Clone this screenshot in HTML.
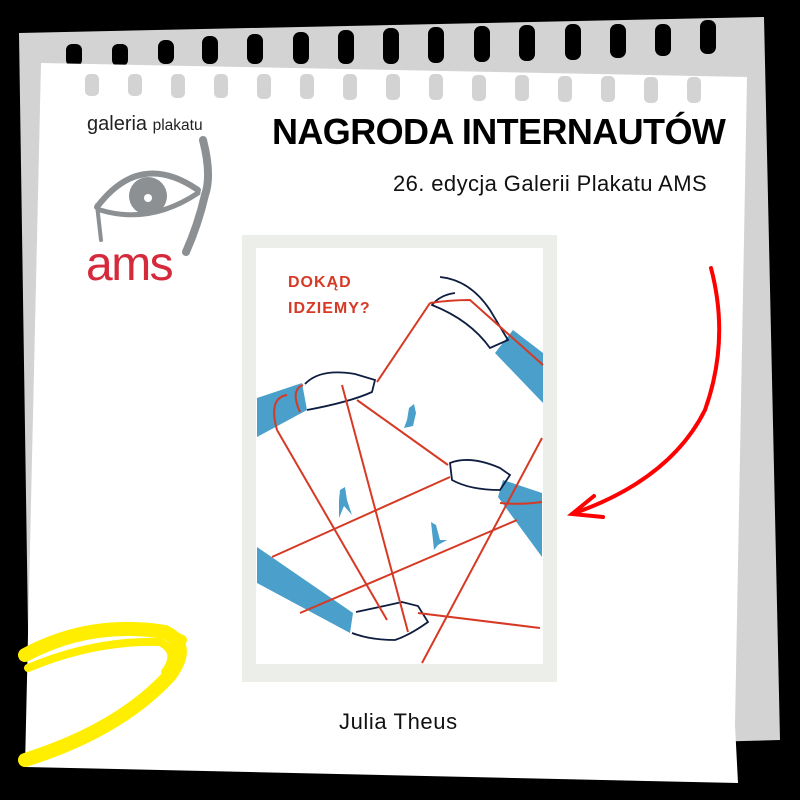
<!DOCTYPE html>
<html><head><meta charset="utf-8"><style>
html,body{margin:0;padding:0;background:#000;}
body{width:800px;height:800px;overflow:hidden;position:relative;font-family:"Liberation Sans",sans-serif;}
svg{position:absolute;left:0;top:0;}
.t{position:absolute;white-space:nowrap;color:#111;}
</style></head><body>
<svg width="800" height="800" viewBox="0 0 800 800">
  <polygon points="19,33 764,17 780,740 30,760" fill="#d3d3d3"/>
  <g fill="#000">
    <rect x="66" y="44" width="16" height="22" rx="6"/>
    <rect x="112" y="44" width="16" height="22" rx="6"/>
    <rect x="158" y="40" width="16" height="24" rx="7"/>
    <rect x="202" y="36" width="16" height="28" rx="7"/>
    <rect x="247" y="34" width="16" height="30" rx="7"/>
    <rect x="293" y="32" width="16" height="32" rx="7"/>
    <rect x="338" y="30" width="16" height="34" rx="7"/>
    <rect x="383" y="28" width="16" height="36" rx="7"/>
    <rect x="428" y="27" width="16" height="36" rx="7"/>
    <rect x="474" y="26" width="16" height="36" rx="7"/>
    <rect x="519" y="25" width="16" height="36" rx="7"/>
    <rect x="565" y="24" width="16" height="36" rx="7"/>
    <rect x="610" y="24" width="16" height="34" rx="7"/>
    <rect x="655" y="24" width="16" height="32" rx="7"/>
    <rect x="700" y="20" width="16" height="34" rx="7"/>
  </g>
  <polygon points="41,63 747,77 735,725 738,783 25,767" fill="#fff"/>
  <g fill="#d3d3d3">
    <rect x="85" y="74" width="14" height="22" rx="5"/>
    <rect x="128" y="74" width="14" height="22" rx="5"/>
    <rect x="171" y="74" width="14" height="24" rx="5"/>
    <rect x="214" y="74" width="14" height="24" rx="5"/>
    <rect x="257" y="74" width="14" height="25" rx="5"/>
    <rect x="300" y="74" width="14" height="25" rx="5"/>
    <rect x="343" y="74" width="14" height="26" rx="5"/>
    <rect x="386" y="74" width="14" height="26" rx="5"/>
    <rect x="429" y="74" width="14" height="26" rx="5"/>
    <rect x="472" y="75" width="14" height="26" rx="5"/>
    <rect x="515" y="75" width="14" height="26" rx="5"/>
    <rect x="558" y="76" width="14" height="26" rx="5"/>
    <rect x="601" y="76" width="14" height="26" rx="5"/>
    <rect x="644" y="77" width="14" height="26" rx="5"/>
    <rect x="687" y="77" width="14" height="26" rx="5"/>
  </g>
  <g fill="none" stroke="#8d9092" stroke-linecap="round">
    <path d="M97,207 Q140,150 198,190" stroke-width="6"/>
    <path d="M100,210 Q150,225 198,193" stroke-width="5"/>
    <path d="M97,205 L101,240" stroke-width="4"/>
    <path d="M203,140 Q212,175 205,195 Q198,225 186,252" stroke-width="8"/>
  </g>
  <circle cx="148" cy="196" r="19" fill="#8d9092"/>
  <circle cx="148" cy="198" r="4" fill="#fff"/>
  <rect x="242" y="235" width="315" height="447" fill="#eceeea"/>
  <rect x="256" y="248" width="287" height="416" fill="#fff"/>
  <g fill="#4b9fcb">
    <polygon points="257,398 302,383 307,410 257,437"/>
    <polygon points="513,330 543,353 543,403 495,353"/>
    <polygon points="503,480 542,493 542,557 498,497"/>
    <polygon points="257,547 353,613 350,633 257,583"/>
    <polygon points="409,408 414,404 416,413 413,426 404,428 407,420"/>
    <polygon points="340,490 345,487 347,500 352,515 344,506 339,518 339,500"/>
    <polygon points="431,522 436,525 440,540 447,540 438,545 434,550"/>
  </g>
  <g fill="none" stroke="#0f1d40" stroke-width="1.8">
    <path d="M305,384 Q320,368 355,374 L375,380 L372,392 Q350,402 307,410"/>
    <path d="M440,277 Q470,280 490,310 L508,340 L490,348 Q470,320 432,305 Q440,295 455,293"/>
    <path d="M450,463 Q470,455 500,468 L510,475 L500,490 Q470,490 452,480 Z"/>
    <path d="M356,612 Q380,607 402,602 L418,606 L428,622 Q410,635 395,640 Q370,640 352,633"/>
  </g>
  <g fill="none" stroke="#d63a24" stroke-width="2">
    <line x1="430" y1="303" x2="377" y2="382"/>
    <line x1="357" y1="400" x2="448" y2="465"/>
    <line x1="342" y1="385" x2="408" y2="632"/>
    <line x1="277" y1="430" x2="387" y2="620"/>
    <path d="M303,385 Q290,390 300,412 M287,395 Q268,398 277,430"/>
    <line x1="450" y1="477" x2="272" y2="557"/>
    <line x1="517" y1="520" x2="300" y2="613"/>
    <line x1="542" y1="438" x2="422" y2="663"/>
    <line x1="418" y1="613" x2="540" y2="628"/>
    <path d="M430,303 Q450,300 470,300 L543,365"/>
    <path d="M500,503 Q520,505 542,502"/>
  </g>
  <g fill="none" stroke="#ff0000" stroke-width="4" stroke-linecap="round">
    <path d="M711,268 Q730,340 705,410 Q670,480 572,514"/>
    <path d="M594,496 L572,514 L603,517"/>
  </g>
  <g fill="none" stroke="#ffee00" stroke-linecap="round">
    <path d="M25,655 Q90,620 165,632 Q192,645 170,675 Q120,730 25,760" stroke-width="14"/>
    <path d="M28,668 Q95,640 160,642 Q180,652 165,672" stroke-width="8"/>
    <path d="M95,632 Q150,622 182,640" stroke-width="10"/>
  </g>
</svg>
<div class="t" style="left:87px;top:113px;font-size:20px;color:#222;">galeria <span style="font-size:15.5px">plakatu</span></div>
<div class="t" style="left:86px;top:241px;font-size:48px;color:#d42a3c;letter-spacing:-1.5px;line-height:48px;">ams</div>
<div class="t" style="left:272px;top:111px;font-size:36px;font-weight:bold;color:#000;letter-spacing:-0.6px;">NAGRODA INTERNAUTÓW</div>
<div class="t" style="left:393px;top:171px;font-size:22px;color:#111;letter-spacing:0.4px;">26. edycja Galerii Plakatu AMS</div>
<div class="t" style="left:288px;top:270px;font-size:16px;font-weight:bold;color:#d63a24;letter-spacing:1px;line-height:26px;">DOKĄD<br>IDZIEMY?</div>
<div class="t" style="left:339px;top:709px;font-size:22px;color:#111;letter-spacing:0.6px;">Julia Theus</div>
</body></html>
